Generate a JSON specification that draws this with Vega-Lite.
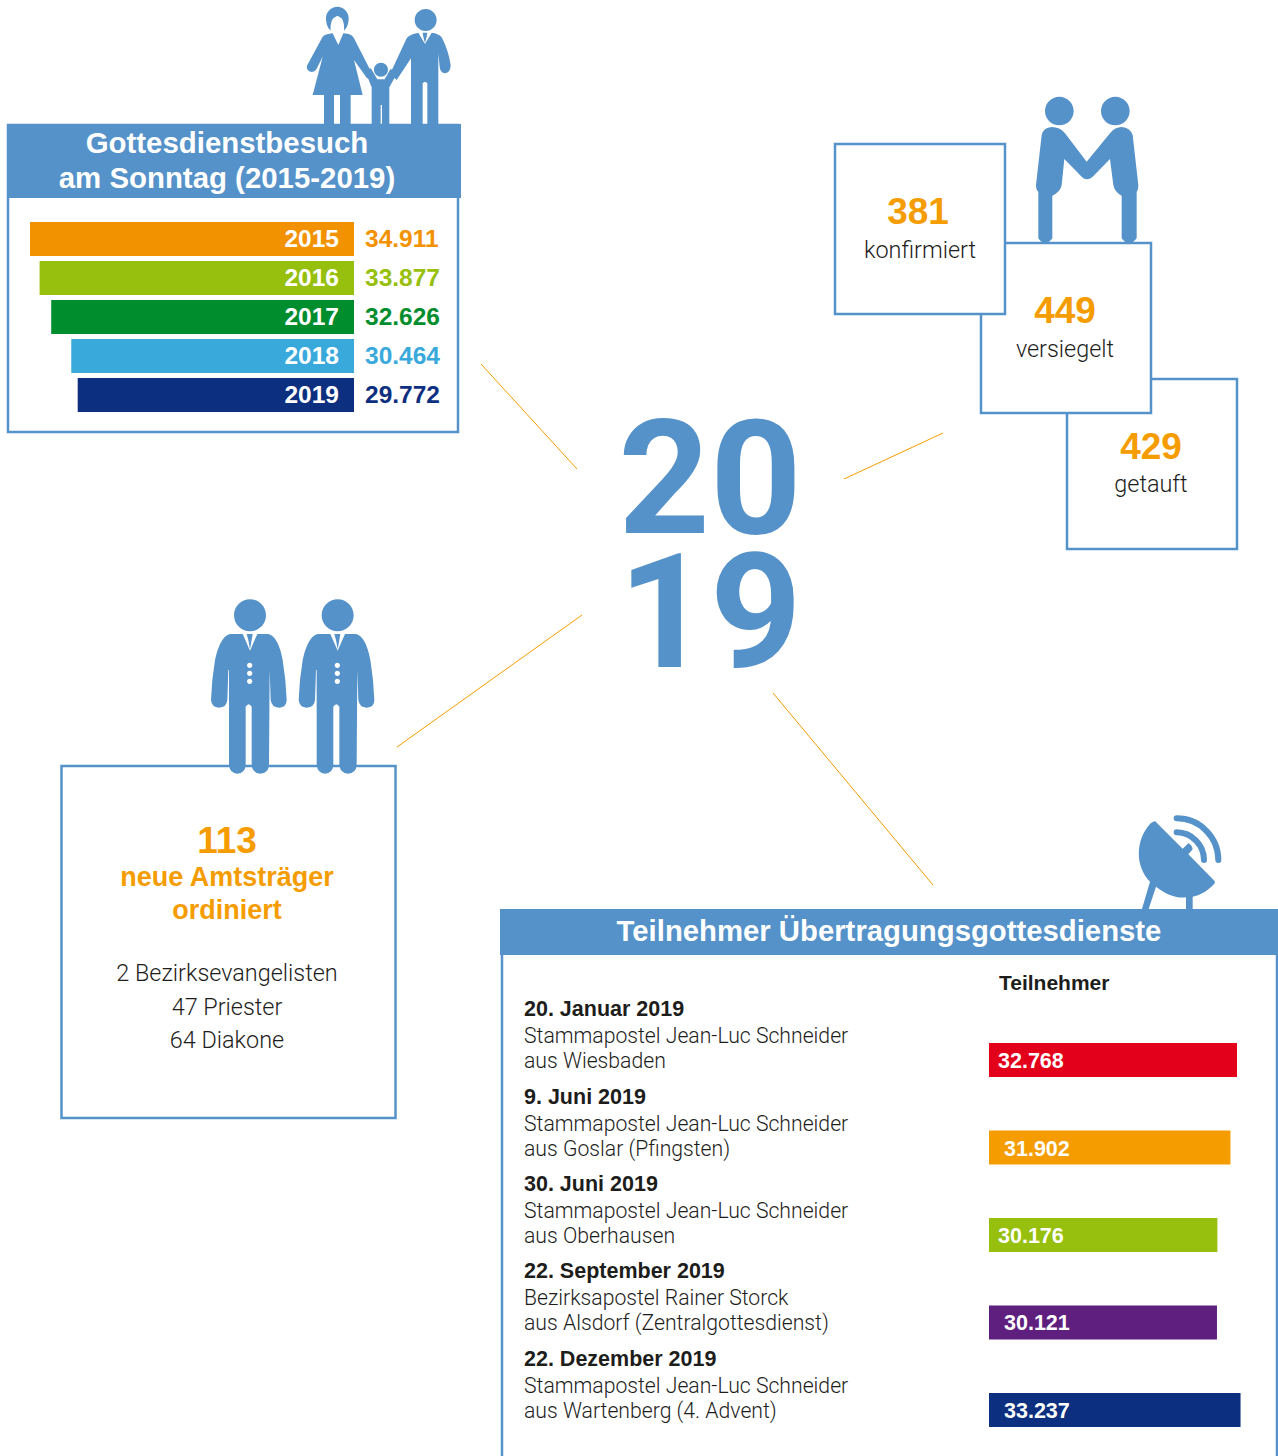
{"$schema":"https://vega.github.io/schema/vega-lite/v6.json","width":1278,"height":1456,"padding":0,"autosize":{"type":"none"},"background":"#ffffff","config":{"view":{"stroke":null},"text":{"font":"Liberation Sans","baseline":"middle","align":"center","color":"#1d1d1b"}},"datasets":{"attendance":[{"year":"2015","visitors":34911,"label":"34.911"},{"year":"2016","visitors":33877,"label":"33.877"},{"year":"2017","visitors":32626,"label":"32.626"},{"year":"2018","visitors":30464,"label":"30.464"},{"year":"2019","visitors":29772,"label":"29.772"}],"broadcasts":[{"date":"20. Januar 2019","speaker":"Stammapostel Jean-Luc Schneider","origin":"aus Wiesbaden","participants":32768,"label":"32.768"},{"date":"9. Juni 2019","speaker":"Stammapostel Jean-Luc Schneider","origin":"aus Goslar (Pfingsten)","participants":31902,"label":"31.902"},{"date":"30. Juni 2019","speaker":"Stammapostel Jean-Luc Schneider","origin":"aus Oberhausen","participants":30176,"label":"30.176"},{"date":"22. September 2019","speaker":"Bezirksapostel Rainer Storck","origin":"aus Alsdorf (Zentralgottesdienst)","participants":30121,"label":"30.121"},{"date":"22. Dezember 2019","speaker":"Stammapostel Jean-Luc Schneider","origin":"aus Wartenberg (4. Advent)","participants":33237,"label":"33.237"}]},"resolve":{"scale":{"x":"independent","y":"independent","color":"independent"}},"layer":[
{"data":{"values":[{"link":"Gottesdienstbesuch"}]},"mark":{"type":"rule","stroke":"#f59c00","strokeWidth":1},"encoding":{"x":{"value":481},"y":{"value":364},"x2":{"value":577},"y2":{"value":469}}},
{"data":{"values":[{"link":"Sakramente"}]},"mark":{"type":"rule","stroke":"#f59c00","strokeWidth":1},"encoding":{"x":{"value":844},"y":{"value":479},"x2":{"value":943},"y2":{"value":433}}},
{"data":{"values":[{"link":"Amtsträger"}]},"mark":{"type":"rule","stroke":"#f59c00","strokeWidth":1},"encoding":{"x":{"value":582},"y":{"value":615},"x2":{"value":397},"y2":{"value":747}}},
{"data":{"values":[{"link":"Übertragung"}]},"mark":{"type":"rule","stroke":"#f59c00","strokeWidth":1},"encoding":{"x":{"value":773},"y":{"value":693},"x2":{"value":933},"y2":{"value":885}}},
{"data":{"values":[{"label":"20"}]},"mark":{"type":"text","x":710,"y":485,"fontSize":160,"font":"Roboto","fontWeight":"bold","fill":"#5592c9"},"encoding":{"text":{"field":"label"}}},
{"data":{"values":[{"label":"19"}]},"mark":{"type":"text","x":710,"y":619,"fontSize":160,"font":"Roboto","fontWeight":"bold","fill":"#5592c9"},"encoding":{"text":{"field":"label"}}},
{"data":{"values":[{"panel":"attendance frame"}]},"mark":{"type":"rect","x":8,"x2":458,"y":125,"y2":432,"fill":"#ffffff","stroke":"#5592c9","strokeWidth":2.5},"encoding":{}},
{"data":{"values":[{"panel":"attendance header"}]},"mark":{"type":"rect","x":7,"x2":461,"y":124,"y2":198,"fill":"#5592c9"},"encoding":{}},
{"data":{"values":[{"icon":"family"}]},"mark":{"type":"point","x":290,"y":0,"size":0.4444,"filled":true,"opacity":1,"fill":"#5592c9","shape":"M108 55 A34 35 0 1 1 176 55 C176 72 170 85 162 92 C163 80 162 65 155 55 L142 47 L130 55 C122 65 121 80 122 92 C114 85 108 72 108 55 Z M98 110 Q104 103 118 101 L128 100 L145 135 L160 100 L172 101 Q186 103 192 115 L245 218 L232 236 L192 180 L218 285 L182 285 L182 375 L150 375 L150 285 L132 285 L132 375 L102 375 L102 285 L68 285 L98 170 L78 210 Q65 222 53 210 Q47 200 55 190 Z M252 209 A21 21 0 1 1 294 209 A21 21 0 1 1 252 209 Z M228 220 L242 204 L262 238 L284 238 L302 206 L320 222 L298 262 L298 375 L276 375 L276 315 L272 315 L272 375 L245 375 L245 262 Z M374 60 A33 33 0 1 1 440 60 A33 33 0 1 1 374 60 Z M350 115 Q358 103 385 98 L405 132 L425 98 Q445 100 455 112 Q475 150 482 195 Q482 218 465 220 Q450 218 449 200 L445 160 L445 375 L412 375 L412 250 Q405 240 398 250 L398 375 L363 375 L363 175 L320 240 L300 222 Z M398 98 L412 98 L410 110 L405 130 L400 110 Z"},"encoding":{}},
{"data":{"values":[{"label":"Gottesdienstbesuch"}]},"mark":{"type":"text","x":227,"y":144,"fontSize":29.4,"fontWeight":"bold","fill":"#ffffff"},"encoding":{"text":{"field":"label"}}},
{"data":{"values":[{"label":"am Sonntag (2015-2019)"}]},"mark":{"type":"text","x":227,"y":179,"fontSize":29.4,"fontWeight":"bold","fill":"#ffffff"},"encoding":{"text":{"field":"label"}}},
{"data":{"name":"attendance"},"layer":[
{"mark":{"type":"bar"},"encoding":{"x":{"field":"visitors","type":"quantitative","stack":null,"axis":null,"scale":{"domain":[0,34911],"range":[354,30],"nice":false}},"y":{"field":"year","type":"ordinal","axis":null,"scale":{"type":"band","domain":["2015","2016","2017","2018","2019"],"range":[222,412],"paddingInner":0.128,"paddingOuter":0}},"color":{"field":"year","type":"nominal","legend":null,"scale":{"domain":["2015","2016","2017","2018","2019"],"range":["#f39200","#97bf0d","#008d2d","#39a9dc","#0c2f80"]}}}},
{"mark":{"type":"text","align":"right","dx":-15,"dy":1,"fontSize":24.5,"fontWeight":"bold","fill":"#ffffff"},"encoding":{"x":{"datum":0,"type":"quantitative"},"y":{"field":"year","type":"ordinal"},"text":{"field":"year"}}},
{"mark":{"type":"text","align":"left","dx":11,"dy":1,"fontSize":24.5,"fontWeight":"bold"},"encoding":{"x":{"datum":0,"type":"quantitative"},"y":{"field":"year","type":"ordinal"},"text":{"field":"label"},"color":{"field":"year","type":"nominal"}}}
]},
{"data":{"values":[{"box":"getauft"}]},"mark":{"type":"rect","x":1067,"x2":1237,"y":379,"y2":549,"fill":"#ffffff","stroke":"#5592c9","strokeWidth":2.5},"encoding":{}},
{"data":{"values":[{"box":"versiegelt"}]},"mark":{"type":"rect","x":981,"x2":1151,"y":243,"y2":413,"fill":"#ffffff","stroke":"#5592c9","strokeWidth":2.5},"encoding":{}},
{"data":{"values":[{"box":"konfirmiert"}]},"mark":{"type":"rect","x":835,"x2":1005,"y":144,"y2":314,"fill":"#ffffff","stroke":"#5592c9","strokeWidth":2.5},"encoding":{}},
{"data":{"values":[{"icon":"handshake"}]},"mark":{"type":"point","x":1020,"y":85,"size":0.4444,"filled":true,"opacity":1,"fill":"#5592c9","shape":"M75 78 A43 43 0 1 1 161 78 A43 43 0 1 1 75 78 Z M243 78 A43 43 0 1 1 329 78 A43 43 0 1 1 243 78 Z M95 126 Q120 126 135 145 L200 230 L270 145 Q285 126 305 126 Q330 128 338 150 L355 300 Q355 315 350 320 L350 460 Q327 490 305 460 L305 332 Q283 320 280 300 L270 222 L218 275 Q200 290 185 275 L133 222 L125 300 Q122 320 97 332 L97 460 Q75 490 55 460 L55 320 Q48 315 48 300 L65 150 Q70 128 95 126 Z"},"encoding":{}},
{"data":{"values":[{"label":"381"}]},"mark":{"type":"text","x":918,"y":213,"fontSize":37,"fontWeight":"bold","fill":"#f59c00"},"encoding":{"text":{"field":"label"}}},
{"data":{"values":[{"label":"konfirmiert"}]},"mark":{"type":"text","x":920,"y":251,"fontSize":23.4,"font":"Roboto","fontWeight":300},"encoding":{"text":{"field":"label"}}},
{"data":{"values":[{"label":"449"}]},"mark":{"type":"text","x":1065,"y":312,"fontSize":37,"fontWeight":"bold","fill":"#f59c00"},"encoding":{"text":{"field":"label"}}},
{"data":{"values":[{"label":"versiegelt"}]},"mark":{"type":"text","x":1065,"y":350,"fontSize":23.4,"font":"Roboto","fontWeight":300},"encoding":{"text":{"field":"label"}}},
{"data":{"values":[{"label":"429"}]},"mark":{"type":"text","x":1151,"y":448,"fontSize":37,"fontWeight":"bold","fill":"#f59c00"},"encoding":{"text":{"field":"label"}}},
{"data":{"values":[{"label":"getauft"}]},"mark":{"type":"text","x":1151,"y":485,"fontSize":23.4,"font":"Roboto","fontWeight":300},"encoding":{"text":{"field":"label"}}},
{"data":{"values":[{"box":"Amtsträger"}]},"mark":{"type":"rect","x":61.5,"x2":395.5,"y":766,"y2":1118,"fill":"#ffffff","stroke":"#5592c9","strokeWidth":2.5},"encoding":{}},
{"data":{"values":[{"icon":"officer left"}]},"mark":{"type":"point","x":200,"y":590,"size":0.4444,"filled":true,"opacity":1,"fill":"#5592c9","shape":"M102 76 A48 48 0 1 1 198 76 A48 48 0 1 1 102 76 Z M128 132 L90 132 Q60 140 45 210 Q35 270 33 330 Q35 352 57 353 Q80 352 82 330 L85 240 L87 240 L87 525 Q90 550 112 551 Q135 550 137 525 L137 350 Q146 335 155 350 L155 525 Q158 550 181 551 Q205 550 207 525 L209 240 L212 330 Q215 352 237 353 Q260 352 260 330 Q258 270 248 210 Q235 140 205 132 L172 132 L150 182 Z M141 226 A8 8 0 1 1 157 226 A8 8 0 1 1 141 226 Z M141 250 A8 8 0 1 1 157 250 A8 8 0 1 1 141 250 Z M141 274 A8 8 0 1 1 157 274 A8 8 0 1 1 141 274 Z M140 132 L158 132 L155 150 L150 178 L145 150 Z"},"encoding":{}},
{"data":{"values":[{"icon":"officer right"}]},"mark":{"type":"point","x":287.67,"y":590,"size":0.4444,"filled":true,"opacity":1,"fill":"#5592c9","shape":"M102 76 A48 48 0 1 1 198 76 A48 48 0 1 1 102 76 Z M128 132 L90 132 Q60 140 45 210 Q35 270 33 330 Q35 352 57 353 Q80 352 82 330 L85 240 L87 240 L87 525 Q90 550 112 551 Q135 550 137 525 L137 350 Q146 335 155 350 L155 525 Q158 550 181 551 Q205 550 207 525 L209 240 L212 330 Q215 352 237 353 Q260 352 260 330 Q258 270 248 210 Q235 140 205 132 L172 132 L150 182 Z M141 226 A8 8 0 1 1 157 226 A8 8 0 1 1 141 226 Z M141 250 A8 8 0 1 1 157 250 A8 8 0 1 1 141 250 Z M141 274 A8 8 0 1 1 157 274 A8 8 0 1 1 141 274 Z M140 132 L158 132 L155 150 L150 178 L145 150 Z"},"encoding":{}},
{"data":{"values":[{"label":"113"}]},"mark":{"type":"text","x":227,"y":842,"fontSize":37,"fontWeight":"bold","fill":"#f59c00"},"encoding":{"text":{"field":"label"}}},
{"data":{"values":[{"label":"neue Amtsträger"}]},"mark":{"type":"text","x":227,"y":878,"fontSize":27,"fontWeight":"bold","fill":"#f59c00"},"encoding":{"text":{"field":"label"}}},
{"data":{"values":[{"label":"ordiniert"}]},"mark":{"type":"text","x":227,"y":911,"fontSize":27,"fontWeight":"bold","fill":"#f59c00"},"encoding":{"text":{"field":"label"}}},
{"data":{"values":[{"label":"2 Bezirksevangelisten"}]},"mark":{"type":"text","x":227,"y":974,"fontSize":23.4,"font":"Roboto","fontWeight":300},"encoding":{"text":{"field":"label"}}},
{"data":{"values":[{"label":"47 Priester"}]},"mark":{"type":"text","x":227,"y":1008,"fontSize":23.4,"font":"Roboto","fontWeight":300},"encoding":{"text":{"field":"label"}}},
{"data":{"values":[{"label":"64 Diakone"}]},"mark":{"type":"text","x":227,"y":1041,"fontSize":23.4,"font":"Roboto","fontWeight":300},"encoding":{"text":{"field":"label"}}},
{"data":{"values":[{"panel":"broadcast frame"}]},"mark":{"type":"rect","x":502,"x2":1277,"y":911,"y2":1470,"fill":"#ffffff","stroke":"#5592c9","strokeWidth":2.5},"encoding":{}},
{"data":{"values":[{"panel":"broadcast header"}]},"mark":{"type":"rect","x":500,"x2":1278,"y":909,"y2":955,"fill":"#5592c9"},"encoding":{}},
{"data":{"values":[{"icon":"dish"}]},"mark":{"type":"point","x":1120,"y":800,"size":0.4444,"filled":true,"opacity":1,"fill":"#5592c9","shape":"M100 65 Q106 62 110 68 L188 146 L205 130 Q216 135 218 148 L205 163 L283 242 Q288 248 280 254 C260 275 240 285 218 290 L218 330 L198 330 L198 292 C170 295 140 285 108 260 L85 330 L65 330 L90 245 C45 200 45 120 92 70 Z"},"encoding":{}},
{"data":{"values":[{"icon":"dish waves"}]},"mark":{"type":"point","x":1120,"y":800,"size":0.4444,"filled":false,"opacity":1,"stroke":"#5592c9","strokeWidth":6,"strokeCap":"round","shape":"M170 55 A125 125 0 0 1 295 180 M170 97 A83 83 0 0 1 252 180"},"encoding":{}},
{"data":{"values":[{"label":"Teilnehmer Übertragungsgottesdienste"}]},"mark":{"type":"text","x":889,"y":932,"fontSize":29.3,"fontWeight":"bold","fill":"#ffffff"},"encoding":{"text":{"field":"label"}}},
{"data":{"values":[{"label":"Teilnehmer"}]},"mark":{"type":"text","x":999,"y":984,"align":"left","fontSize":21,"fontWeight":"bold"},"encoding":{"text":{"field":"label"}}},
{"data":{"name":"broadcasts"},"layer":[
{"mark":{"type":"bar"},"encoding":{"x":{"field":"participants","type":"quantitative","stack":null,"axis":null,"scale":{"domain":[0,32768],"range":[989,1237],"nice":false}},"y":{"field":"date","type":"nominal","sort":null,"axis":null,"scale":{"type":"band","domain":["20. Januar 2019","9. Juni 2019","30. Juni 2019","22. September 2019","22. Dezember 2019"],"range":[1043,1427],"paddingInner":0.6114,"paddingOuter":0}},"color":{"field":"date","type":"nominal","legend":null,"scale":{"domain":["20. Januar 2019","9. Juni 2019","30. Juni 2019","22. September 2019","22. Dezember 2019"],"range":["#e3001b","#f59c00","#97bf0d","#5f1f7f","#0c2f80"]}}}},
{"transform":[{"filter":"datum.participants == 32768 || datum.participants == 30176"}],"mark":{"type":"text","align":"left","dx":9,"dy":2,"fontSize":21.5,"fontWeight":"bold","fill":"#ffffff"},"encoding":{"x":{"datum":0,"type":"quantitative"},"y":{"field":"date","type":"nominal"},"text":{"field":"label"}}},
{"transform":[{"filter":"datum.participants != 32768 && datum.participants != 30176"}],"mark":{"type":"text","align":"left","dx":15,"dy":2,"fontSize":21.5,"fontWeight":"bold","fill":"#ffffff"},"encoding":{"x":{"datum":0,"type":"quantitative"},"y":{"field":"date","type":"nominal"},"text":{"field":"label"}}},
{"mark":{"type":"text","align":"left","x":524,"dy":-50,"fontSize":21.5,"fontWeight":"bold"},"encoding":{"y":{"field":"date","type":"nominal"},"text":{"field":"date"}}},
{"mark":{"type":"text","align":"left","x":524,"dy":-23,"fontSize":21.2,"font":"Roboto","fontWeight":300},"encoding":{"y":{"field":"date","type":"nominal"},"text":{"field":"speaker"}}},
{"mark":{"type":"text","align":"left","x":524,"dy":2,"fontSize":21.2,"font":"Roboto","fontWeight":300},"encoding":{"y":{"field":"date","type":"nominal"},"text":{"field":"origin"}}}
]}
]}
